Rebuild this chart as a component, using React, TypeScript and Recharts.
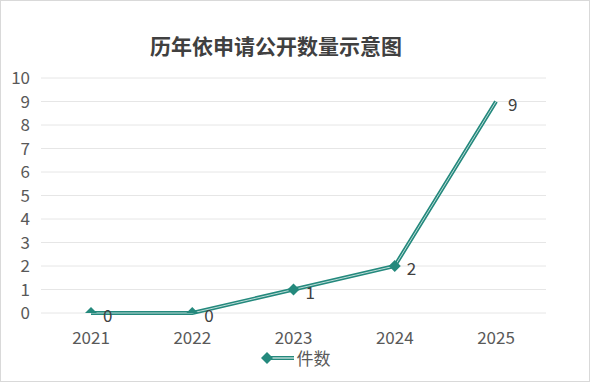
import { LineChart, Line, XAxis, YAxis, CartesianGrid, LabelList } from "recharts";

const years = ["2021", "2022", "2023", "2024", "2025"];
const counts = [0, 0, 1, 2, 9];
const yTicks = [0, 1, 2, 3, 4, 5, 6, 7, 8, 9, 10];

const data = years.map((year, i) => ({ year, count: counts[i] }));

const TEAL = "#24897d";
const FONT = "'Noto Sans CJK SC', 'Noto Sans', sans-serif";

function DiamondDot(props: any) {
  const { cx, cy, index, payload } = props;
  if (cx == null || cy == null || index === years.length - 1) return null;
  const r = 6;
  if (payload.count === 0) {
    return (
      <path key={index} d={`M${cx - r},${cy} L${cx},${cy - r} L${cx + r},${cy} Z`} fill={TEAL} />
    );
  }
  return (
    <path
      key={index}
      d={`M${cx - r},${cy} L${cx},${cy - r} L${cx + r},${cy} L${cx},${cy + r} Z`}
      fill={TEAL}
    />
  );
}

function LegendBox() {
  return (
    <div
      style={{
        position: "absolute",
        top: 347,
        left: 0,
        width: 588,
        display: "flex",
        justifyContent: "center",
        alignItems: "center",
        fontSize: 17,
        lineHeight: "20px",
        color: "#595959",
      }}
    >
      <svg width={36} height={14}>
        <line x1={4} y1={7} x2={34} y2={7} stroke={TEAL} strokeWidth={4} />
        <line x1={4} y1={7} x2={34} y2={7} stroke="#ffffff" strokeWidth={1} />
        <path d="M1,7 L7,1 L13,7 L7,13 Z" fill={TEAL} />
      </svg>
      <span style={{ marginLeft: 1 }}>件数</span>
    </div>
  );
}

export default function App() {
  return (
    <div
      style={{
        position: "fixed",
        top: 0,
        left: 0,
        width: 588,
        height: 380,
        border: "1px solid #d9d9d9",
        background: "#ffffff",
        fontFamily: FONT,
      }}
    >
      <div
        style={{
          position: "absolute",
          top: 29,
          left: 0,
          width: 550,
          textAlign: "center",
          fontSize: 21,
          fontWeight: "bold",
          color: "#404040",
        }}
      >
        历年依申请公开数量示意图
      </div>
      <LineChart
        width={588}
        height={380}
        data={data}
        margin={{ top: 77, right: 43, bottom: 32, left: 0 }}
      >
        <CartesianGrid horizontal vertical={false} stroke="#e6e6e6" />
        <XAxis
          dataKey="year"
          axisLine={false}
          tickLine={false}
          tick={{ fill: "#595959", fontSize: 17 }}
          tickMargin={13}
          height={36}
          padding={{ left: 50, right: 50 }}
        />
        <YAxis
          domain={[0, 10]}
          ticks={yTicks}
          interval={0}
          axisLine={false}
          tickLine={false}
          tickSize={0}
          tickMargin={11}
          width={40}
          tick={{ fill: "#595959", fontSize: 17 }}
        />
        <Line
          dataKey="count"
          stroke={TEAL}
          strokeWidth={4}
          dot={<DiamondDot />}
          activeDot={false}
          isAnimationActive={false}
        >
          <LabelList dataKey="count" position="right" offset={12} dy={3} fill="#404040" fontSize={17} />
        </Line>
        <Line
          dataKey="count"
          stroke="#ffffff"
          strokeWidth={1}
          strokeOpacity={0.7}
          dot={false}
          activeDot={false}
          legendType="none"
          isAnimationActive={false}
        />
      </LineChart>
      <LegendBox />
    </div>
  );
}
